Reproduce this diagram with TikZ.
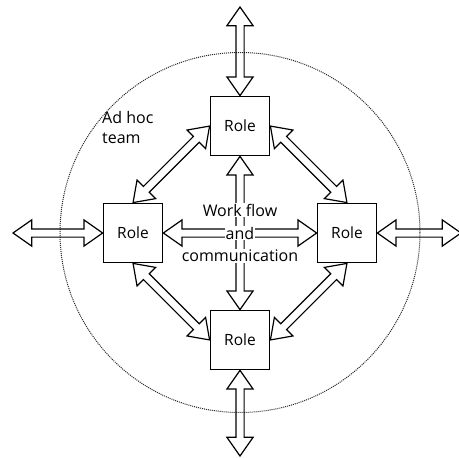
\documentclass[tikz,border=0pt]{standalone}
\usepackage{fontspec}
\setmainfont{Open Sans}
\usetikzlibrary{shapes.arrows,calc}

\tikzset{
    role/.style = {draw, line width = 1.7pt, minimum size = 59pt, inner sep = 0pt,
        font = \fontsize{15.5}{18}\selectfont},
    flow/.style = {double arrow, draw, line width = 1.2pt, inner sep = 0pt,
        text height = 7pt, text depth = 0pt, double arrow head extend = 9pt,
        double arrow tip angle = 70},
    wftext/.style = {fill = white, inner sep = 1pt, font = \fontsize{16}{18}\selectfont}
}

\newcommand\flowarrow[2]{%
    \path let \p1 = ($(#2)-(#1)$), \n1 = {veclen(\x1,\y1)}, \n2 = {atan2(\y1,\x1)} in
        node[flow, minimum height = \n1, rotate = \n2] at ($(#1)!0.5!(#2)$) {};}

\begin{document}
\begin{tikzpicture}[x = 1pt, y = -1pt]
    \useasboundingbox (0,0) rectangle (459,458);
    \draw[black!85, line width = 1pt, dash pattern = on 1pt off 1pt]
        (240,232.5) circle[radius = 180pt];
    \node[role] (roleT) at (240,126) {Role};
    \node[role] (roleL) at (133,233) {Role};
    \node[role] (roleR) at (347,233) {Role};
    \node[role] (roleB) at (240,340) {Role};
    \coordinate (outT) at (240,7);
    \coordinate (outL) at (13,233);
    \coordinate (outR) at (461,233);
    \coordinate (outB) at (240,456);
    % links to the outside
    \flowarrow{outT}{roleT.north}
    \flowarrow{outL}{roleL.west}
    \flowarrow{roleR.east}{outR}
    \flowarrow{roleB.south}{outB}
    % links round the team
    \flowarrow{roleL.north}{roleT.west}
    \flowarrow{roleT.east}{roleR.north}
    \flowarrow{roleL.south}{roleB.west}
    \flowarrow{roleR.south}{roleB.east}
    % links through the middle
    \flowarrow{roleT.south}{roleB.north}
    \flowarrow{roleL.east}{roleR.west}
    \node[wftext] (wf1) at (240,210) {Work flow};
    \node[wftext] (wf2) at (240,233) {and};
    \node[wftext] (wf3) at (240,256) {communication};
    \node[font = \fontsize{16}{20}\selectfont, align = left, anchor = north west, inner sep = 0pt]
        (team) at (102,111) {Ad hoc\\team};
\end{tikzpicture}
\end{document}
